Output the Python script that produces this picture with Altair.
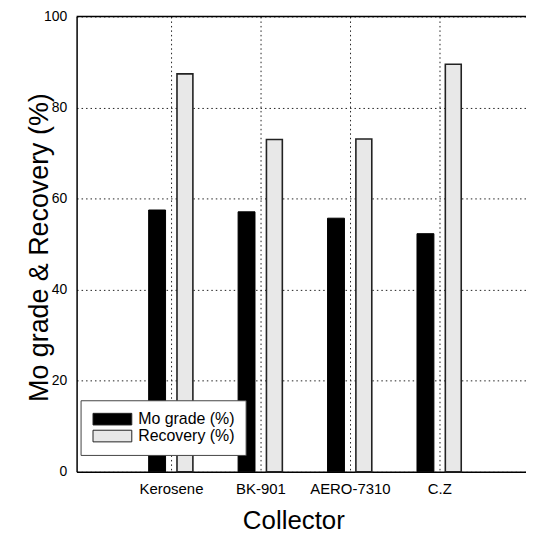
import altair as alt
import pandas as pd

collectors = ["Kerosene", "BK-901", "AERO-7310", "C.Z"]
positions = [1, 2, 3, 4]
mo_grade = [57.5, 57.1, 55.7, 52.3]
recovery = [87.4, 73.0, 73.1, 89.5]
series = ["Mo grade (%)", "Recovery (%)"]
y_ticks = [0, 20, 40, 60, 80, 100]
top_line = [100]

FONT = "Liberation Sans"

df = pd.DataFrame({
    "pos": positions,
    "collector": collectors,
    series[0]: mo_grade,
    series[1]: recovery,
})

label_expr = "[''," + ",".join("'%s'" % c for c in collectors) + "][datum.value]"

x_enc = alt.X(
    "pos:Q",
    scale=alt.Scale(domain=[0, 452 / 92], nice=False, zero=False),
    axis=alt.Axis(
        values=positions, labelExpr=label_expr, title="Collector",
        grid=True, gridDash=[1.5, 3], gridColor="#222", gridWidth=1,
        ticks=False, labelPadding=10, labelFontSize=15, labelFont=FONT,
        labelColor="black", domainColor="black", domainWidth=1.5,
        titleFontSize=26, titleFont=FONT, titleFontWeight="normal",
        titleColor="black", titleX=218, titleY=57, titleBaseline="alphabetic",
        titleAnchor="start", titleAlign="center",
    ),
)
y_enc = alt.Y(
    "value:Q",
    scale=alt.Scale(domain=[0, 100], nice=False),
    axis=alt.Axis(
        values=y_ticks, title="Mo grade & Recovery (%)",
        grid=True, gridDash=[1.5, 3], gridColor="#222", gridWidth=1,
        ticks=False, labelPadding=10, labelFontSize=14, labelFont=FONT,
        labelColor="black", domainColor="black", domainWidth=1.5,
        titleFontSize=27, titleFont=FONT, titleFontWeight="normal",
        titleColor="black", titleX=-29, titleY=232, titleBaseline="alphabetic",
        titleAlign="center", titleAngle=270,
    ),
)

color_enc = alt.Color(
    "series:N",
    scale=alt.Scale(domain=series, range=["#000000", "#e8e8e8"]),
    legend=alt.Legend(
        orient="none", legendX=4, legendY=386, title=None, direction="vertical",
        symbolType="M-3,-0.9L3,-0.9L3,0.9L-3,0.9Z", symbolSize=169,
        symbolOffset=13, labelOffset=18, labelFontSize=16, labelFont=FONT,
        labelColor="black", padding=11, strokeColor="#444", fillColor="white",
        rowPadding=1, symbolStrokeColor="#222", symbolStrokeWidth=1,
        symbolOpacity=1, cornerRadius=0,
    ),
)

base = alt.Chart(df).transform_fold(series, as_=["series", "value"])

mo = base.transform_filter(alt.datum.series == series[0]).mark_bar(
    size=17, xOffset=-14, stroke="#000000", strokeWidth=1
).encode(x=x_enc, y=y_enc, color=color_enc)

rec = base.transform_filter(alt.datum.series == series[1]).mark_bar(
    size=16, xOffset=14, stroke="#222222", strokeWidth=1.6
).encode(x=x_enc, y=y_enc, color=color_enc)

top = alt.Chart(pd.DataFrame({"value": top_line})).mark_rule(
    color="black", strokeWidth=1.5
).encode(y=alt.Y("value:Q"))

chart = alt.layer(mo, rec, top).properties(
    width=452, height=458,
    padding={"left": 69, "top": 7, "right": 0, "bottom": 62},
    autosize=alt.AutoSizeParams(type="none"),
).configure_view(stroke=None)

chart.save("out.html", embed_options={"renderer": "svg", "actions": False})
